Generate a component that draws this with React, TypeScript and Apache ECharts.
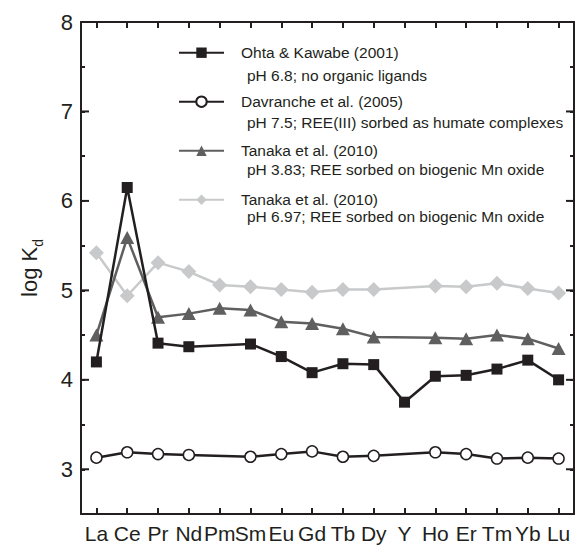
import { useEffect, useRef } from 'react';
import * as echarts from 'echarts';

const elements = ['La', 'Ce', 'Pr', 'Nd', 'Pm', 'Sm', 'Eu', 'Gd', 'Tb', 'Dy', 'Y', 'Ho', 'Er', 'Tm', 'Yb', 'Lu'];
const ohta = [4.2, 6.15, 4.41, 4.37, null, 4.4, 4.26, 4.08, 4.18, 4.17, 3.75, 4.04, 4.05, 4.12, 4.22, 4.0];
const davranche = [3.13, 3.19, 3.17, 3.16, null, 3.14, 3.17, 3.2, 3.14, 3.15, null, 3.19, 3.17, 3.12, 3.13, 3.12];
const tanaka383 = [4.5, 5.59, 4.7, 4.74, 4.8, 4.78, 4.65, 4.63, 4.57, 4.48, null, 4.47, 4.46, 4.5, 4.46, 4.35];
const tanaka697 = [5.42, 4.94, 5.31, 5.21, 5.06, 5.04, 5.01, 4.98, 5.01, 5.01, null, 5.05, 5.04, 5.08, 5.02, 4.97];
const majorTicks = [3, 4, 5, 6, 7, 8];
const seriesNames = ['Ohta & Kawabe (2001)', 'Davranche et al. (2005)', 'Tanaka et al. (2010)', 'Tanaka et al. (2010) '];
const seriesNotes = [
  'pH 6.8; no organic ligands',
  'pH 7.5; REE(III) sorbed as humate complexes',
  'pH 3.83; REE sorbed on biogenic Mn oxide',
  'pH 6.97; REE sorbed on biogenic Mn oxide',
];

const FONT = '"Liberation Sans", Arial, Helvetica, sans-serif';
const INK = '#231f20';

export default function App() {
  const ref = useRef<HTMLDivElement>(null);
  useEffect(() => {
    const chart = echarts.init(ref.current!, null, { renderer: 'svg' });
    const xAxisBase = {
      type: 'category' as const,
      data: elements,
      boundaryGap: true,
      gridIndex: 0,
      axisLine: { show: true, onZero: false, lineStyle: { color: INK, width: 2 } },
      axisTick: { show: true, inside: true, alignWithLabel: true, length: 6, lineStyle: { color: INK, width: 2 } },
      splitLine: { show: false },
    };
    const yAxisBase = {
      type: 'value' as const,
      min: 2.5,
      max: 8,
      interval: 0.5,
      gridIndex: 0,
      axisLine: { show: true, onZero: false, lineStyle: { color: INK, width: 2 } },
      axisTick: { show: true, inside: true, length: 4, lineStyle: { color: INK, width: 2 } },
      splitLine: { show: false },
    };
    const makeSeries = (name: string, data: (number | null)[], color: string, symbol: string, size: any, itemStyle: any, z: number) => ({
      name,
      type: 'line',
      xAxisIndex: 0,
      yAxisIndex: 0,
      data,
      connectNulls: true,
      symbol,
      symbolSize: size,
      lineStyle: { color, width: 2.5 },
      itemStyle,
      z,
    });
    chart.setOption({
      animation: false,
      grid: { left: 81, right: 1, top: 22, bottom: 31, containLabel: false },
      xAxis: [
        {
          ...xAxisBase,
          position: 'bottom',
          axisLabel: { color: INK, fontSize: 21, fontFamily: FONT, margin: 9, interval: 0 },
        },
        { ...xAxisBase, position: 'top', axisLabel: { show: false } },
      ],
      yAxis: [
        {
          ...yAxisBase,
          position: 'left',
          name: '{a|log K}{b|d}',
          nameLocation: 'middle',
          nameRotate: 90,
          nameGap: 36,
          nameTextStyle: {
            rich: {
              a: { fontSize: 22, fontFamily: FONT, color: INK, verticalAlign: 'bottom', padding: [0, 0, 5, 0] },
              b: { fontSize: 14, fontFamily: FONT, color: INK, verticalAlign: 'bottom' },
            },
          },
          axisLabel: {
            color: INK,
            fontSize: 22,
            fontFamily: FONT,
            margin: 8,
            formatter: (v: number) => (Number.isInteger(v) ? String(v) : ''),
          },
        },
        { ...yAxisBase, position: 'right', axisLabel: { show: false } },
      ],
      legend: {
        data: seriesNames,
        orient: 'vertical',
        left: 178,
        top: 44.7,
        padding: 0,
        itemWidth: 45,
        itemHeight: 13,
        itemGap: 33,
        selectedMode: false,
        textStyle: { fontSize: 15.5, fontFamily: FONT, color: INK, lineHeight: 14, padding: [0, 0, 0, 12] },
        formatter: (n: string) => n.trim(),
      },
      graphic: seriesNotes.map((t, i) => ({
        type: 'text',
        x: 247,
        y: 75 + i * 47,
        style: { text: t, font: `15.5px ${FONT}`, fill: INK, verticalAlign: 'middle', align: 'left' },
      })),
      series: [
        makeSeries(seriesNames[0], ohta, INK, 'rect', 11, { color: INK }, 5),
        makeSeries(seriesNames[1], davranche, INK, 'circle', 11, { color: '#ffffff', borderColor: INK, borderWidth: 1.5 }, 4),
        makeSeries(seriesNames[2], tanaka383, '#5f5f5f', 'triangle', [14, 13], { color: '#5f5f5f' }, 3),
        makeSeries(seriesNames[3], tanaka697, '#c8c9ca', 'diamond', [15, 15], { color: '#c8c9ca' }, 2),
        {
          type: 'custom',
          xAxisIndex: 0,
          yAxisIndex: 0,
          data: majorTicks.map((v) => [0, v]),
          silent: true,
          z: 10,
          clip: false,
          renderItem: (params: any, api: any) => {
            const pt = api.coord([0, api.value(1)]);
            const cs = params.coordSys;
            const y = pt[1];
            const st = { stroke: INK, lineWidth: 2 };
            return {
              type: 'group',
              children: [
                { type: 'line', shape: { x1: cs.x, y1: y, x2: cs.x + 8, y2: y }, style: st },
                { type: 'line', shape: { x1: cs.x + cs.width - 8, y1: y, x2: cs.x + cs.width, y2: y }, style: st },
              ],
            };
          },
        },
      ],
    });
    return () => chart.dispose();
  }, []);
  return <div ref={ref} style={{ position: 'absolute', left: 0, top: 0, width: 575, height: 545 }} />;
}
